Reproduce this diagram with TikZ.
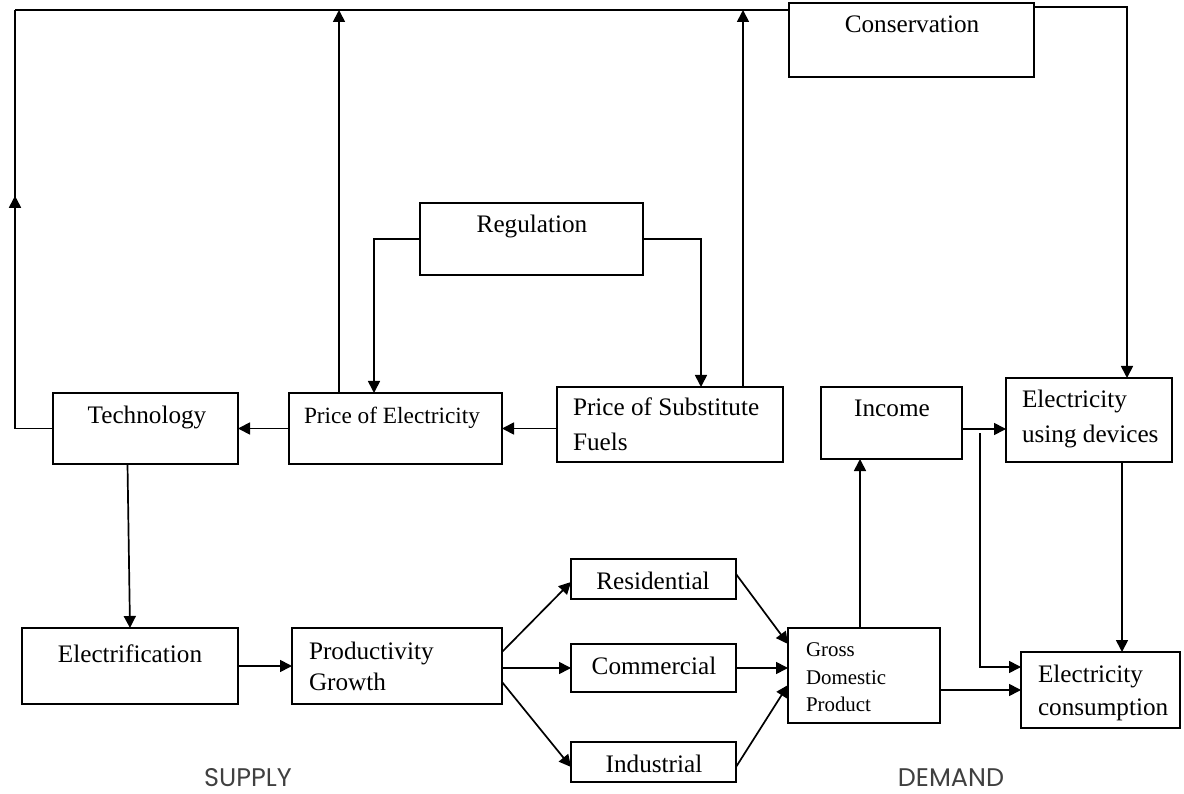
\documentclass[tikz,border=0pt]{standalone}
\usepackage{fontspec}
\setmainfont{Liberation Serif}
\newfontfamily\gothic{Poppins}
\usetikzlibrary{arrows.meta,decorations.markings}

\begin{document}
\begin{tikzpicture}[x=1pt,y=-1pt,
    font=\fontsize{25.2}{30}\selectfont,
    box/.style={draw,line width=1.8pt,rectangle,inner sep=0pt,outer sep=0pt},
    txt/.style={inner sep=0pt,outer sep=0pt},
    link/.style={line width=1.7pt},
    arr/.style={line width=1.7pt,-{Triangle[length=12pt,width=12pt]}},
    midarrow/.style={postaction={decorate},decoration={markings,
        mark=at position #1 with {\arrow{Triangle[length=12pt,width=12pt]}}}}]
    \useasboundingbox (0,0) rectangle (1184,794);

    % boxes
    \node[box,minimum width=245,minimum height=74] (cons) at (911.5,40) {};
    \node[box,minimum width=223,minimum height=72] (reg) at (531.5,239) {};
    \node[box,minimum width=185,minimum height=71] (tech) at (145.5,428.5) {};
    \node[box,minimum width=213,minimum height=71] (poe) at (395.5,428.5) {};
    \node[box,minimum width=226,minimum height=75] (posf) at (670,424.5) {};
    \node[box,minimum width=141,minimum height=72] (inc) at (891.5,423) {};
    \node[box,minimum width=166,minimum height=84] (eud) at (1089,420) {};
    \node[box,minimum width=216,minimum height=76] (elec) at (130,666) {};
    \node[box,minimum width=210,minimum height=76] (prod) at (397,666) {};
    \node[box,minimum width=165,minimum height=40] (res) at (653.5,579) {};
    \node[box,minimum width=165,minimum height=48] (com) at (653.5,668) {};
    \node[box,minimum width=165,minimum height=40] (ind) at (653.5,762) {};
    \node[box,minimum width=152,minimum height=95] (gdp) at (864,675.5) {};
    \node[box,minimum width=159,minimum height=76] (ec) at (1100.5,690) {};

    % texts
    \node[txt,anchor=base] (cons-t) at (912,33) {Conservation};
    \node[txt,anchor=base] (reg-t) at (532,233) {Regulation};
    \node[txt,anchor=base] (tech-t) at (147,423) {Technology};
    \node[txt,anchor=base west,font=\fontsize{23.3}{28}\selectfont] (poe-t) at (304,423) {Price of Electricity};
    \node[txt,anchor=north west,align=left,font=\fontsize{25.2}{35}\selectfont] (posf-t) at (573,398) {Price of Substitute\\Fuels};
    \node[txt,anchor=base] (inc-t) at (892,417) {Income};
    \node[txt,anchor=north west,align=left,font=\fontsize{25.2}{35}\selectfont] (eud-t) at (1022,390) {Electricity\\using devices};
    \node[txt,anchor=base] (elec-t) at (130,662) {Electrification};
    \node[txt,anchor=north west,align=left,font=\fontsize{25.2}{31}\selectfont] (prod-t) at (309,642) {Productivity\\Growth};
    \node[txt,anchor=base] (res-t) at (653,589) {Residential};
    \node[txt,anchor=base] (com-t) at (654,674) {Commercial};
    \node[txt,anchor=base] (ind-t) at (654,772) {Industrial};
    \node[txt,anchor=north west,align=left,font=\fontsize{20.9}{27.5}\selectfont] (gdp-t) at (806,643) {Gross\\Domestic\\Product};
    \node[txt,anchor=north west,align=left,font=\fontsize{25.2}{33}\selectfont] (ec-t) at (1038,665) {Electricity\\consumption};
    \node[txt,anchor=base,font=\gothic\fontsize{25.5}{28}\selectfont,text=black!75] (supply) at (248,786) {SUPPLY};
    \node[txt,anchor=base,font=\gothic\fontsize{25.5}{28}\selectfont,text=black!75] (demand) at (951,786) {DEMAND};

    % feedback to conservation
    \coordinate (lt) at (15,10);
    \coordinate (up1) at (339,10);
    \coordinate (up2) at (743,10);
    \draw[link,midarrow=0.593] (tech.west) -| (lt);
    \draw[link] (lt) -- (lt -| cons.west);
    \draw[arr] (poe.north -| up1) -- (up1);
    \draw[arr] (posf.north -| up2) -- (up2);
    \draw[arr] ([yshift=-4]cons.north east) -| ([xshift=38]eud.north);

    % regulation
    \coordinate (rl) at (374,237);
    \coordinate (rr) at (701,237);
    \draw[arr] (reg.west) -| (rl |- poe.north);
    \draw[arr] (reg.east) -| (rr |- posf.north);

    % supply chain
    \draw[arr] (posf.west |- poe.east) -- (poe.east);
    \draw[arr] (poe.west) -- (tech.east);
    \draw[arr] ([xshift=-18]tech.south) -- (elec.north);
    \draw[arr] (elec.east) -- (prod.west);
    \draw[arr] ([yshift=14]prod.east) -- ([yshift=-3]res.west);
    \draw[arr] (prod.east |- com.west) -- (com.west);
    \draw[arr] ([yshift=-16]prod.east) -- ([yshift=-5]ind.west);

    % demand side
    \draw[arr] ([yshift=5]res.east) -- ([yshift=31.5]gdp.west);
    \draw[arr] (com.east) -- (gdp.west |- com.east);
    \draw[arr] ([yshift=-5]ind.east) -- ([yshift=-9.5]gdp.west);
    \draw[arr] ([xshift=-4]gdp.north) -- ([xshift=-4]gdp.north |- inc.south);
    \draw[arr] ([yshift=-6]inc.east) -- ([yshift=-6]eud.west |- inc.east);
    \coordinate (br) at (980,433);
    \draw[arr] (br) |- ([yshift=23]ec.west);
    \draw[arr] (gdp.east |- ec.west) -- (ec.west);
    \draw[arr] ([xshift=33]eud.south) -- ([xshift=33]eud.south |- ec.north);
\end{tikzpicture}
\end{document}
